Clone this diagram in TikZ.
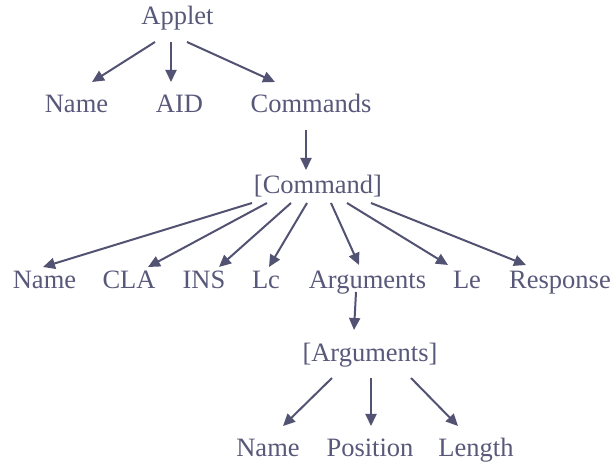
\documentclass[tikz,border=0pt]{standalone}
\usepackage{fontspec}
\setmainfont{Liberation Serif}
\usepackage{xcolor}
\usepackage{tikz}
\usetikzlibrary{arrows.meta}
\definecolor{slate}{RGB}{82,82,115}
\definecolor{slatetext}{RGB}{88,88,122}

\begin{document}
\begin{tikzpicture}[x=0.5pt, y=-0.5pt,
    lbl/.style={anchor=base, inner sep=0pt, text=slatetext,
                font=\fontsize{13.25}{15}\selectfont},
    arr/.style={draw=slate, line width=1pt,
                -{Triangle[length=6pt, width=5.5pt]}}]
    \useasboundingbox (0,0) rectangle (616,464);

    % --- Raiz: Applet ---
    \node[lbl] (applet) at (177.5,25) {Applet};

    % --- Nivel 1 ---
    \node[lbl] (name1) at (76.5,113) {Name};
    \node[lbl] (aid)   at (179.5,113) {AID};
    \node[lbl] (cmds)  at (311,113) {Commands};

    % --- [Command] ---
    \node[lbl] (cmd) at (318,194) {[Command]};

    % --- Campos do comando ---
    \node[lbl] (name2) at (44.5,289) {Name};
    \node[lbl] (cla)   at (129,289) {CLA};
    \node[lbl] (ins)   at (204,289) {INS};
    \node[lbl] (lc)    at (266,289) {Lc};
    \node[lbl] (args)  at (367.5,289) {Arguments};
    \node[lbl] (le)    at (467,289) {Le};
    \node[lbl] (resp)  at (560,289) {Response};

    % --- [Arguments] ---
    \node[lbl] (argl) at (370,362) {[Arguments]};

    % --- Campos dos argumentos ---
    \node[lbl] (name3) at (268,457) {Name};
    \node[lbl] (pos)   at (370,457) {Position};
    \node[lbl] (len)   at (476,457) {Length};

    % --- Setas: Applet ---
    \draw[arr] ([shift={(-22.5,17)}]applet.base) -- ([shift={(15.5,-31)}]name1.base);
    \draw[arr] ([shift={(-6.5,17)}]applet.base)  -- ([shift={(-8.5,-31)}]aid.base);
    \draw[arr] ([shift={(9.5,17)}]applet.base)   -- ([shift={(-36,-31)}]cmds.base);
    \draw[arr] ([shift={(-5,17)}]cmds.base)      -- ([shift={(-12,-24)}]cmd.base);

    % --- Setas: [Command] ---
    \draw[arr] ([shift={(-66,9)}]cmd.base) -- ([shift={(-1.5,-22)}]name2.base);
    \draw[arr] ([shift={(-51,9)}]cmd.base) -- ([shift={(19,-22)}]cla.base);
    \draw[arr] ([shift={(-27,9)}]cmd.base) -- ([shift={(15,-22)}]ins.base);
    \draw[arr] ([shift={(-11,9)}]cmd.base) -- ([shift={(3,-22)}]lc.base);
    \draw[arr] ([shift={(13,9)}]cmd.base)  -- ([shift={(-8.5,-24)}]args.base);
    \draw[arr] ([shift={(29,9)}]cmd.base)  -- ([shift={(-19,-24)}]le.base);
    \draw[arr] ([shift={(53,9)}]cmd.base)  -- ([shift={(-34,-24)}]resp.base);
    \draw[arr] ([shift={(-11.5,3)}]args.base) -- ([shift={(-16,-32)}]argl.base);

    % --- Setas: [Arguments] ---
    \draw[arr] ([shift={(-38,16)}]argl.base) -- ([shift={(15,-31)}]name3.base);
    \draw[arr] ([shift={(1,16)}]argl.base)   -- ([shift={(1,-31)}]pos.base);
    \draw[arr] ([shift={(41,16)}]argl.base)  -- ([shift={(-18,-31)}]len.base);
\end{tikzpicture}
\end{document}
